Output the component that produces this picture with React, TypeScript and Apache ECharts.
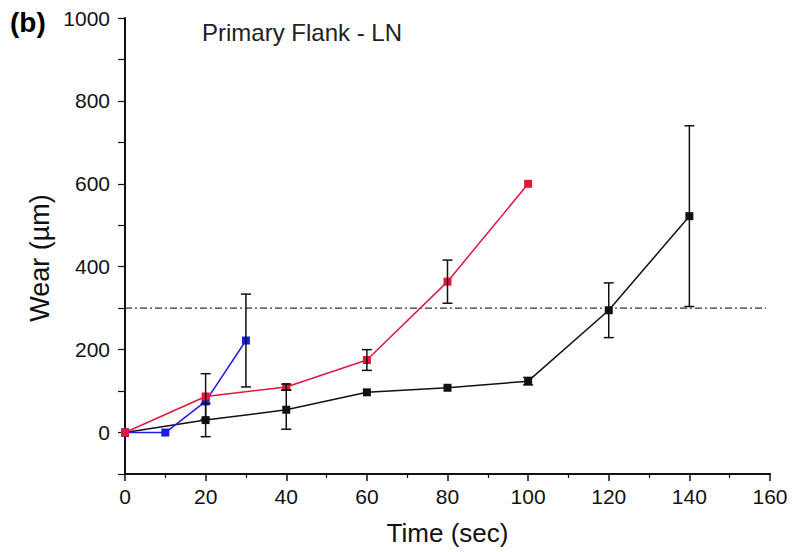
import React, { useEffect, useRef } from "react";
import * as echarts from "echarts";

const times = [0, 20, 40, 60, 80, 100, 120, 140];
const blackWear = [0, 30, 55, 97, 108, 124, 295, 522];
const blackErr = [0, 40, 47, 0, 0, 9, 66, 218];

const redTimes = [0, 20, 40, 60, 80, 100];
const redWear = [0, 87, 110, 175, 364, 600];
const redErr = [0, 55, 7, 25, 52, 0];

const blueTimes = [0, 10, 20, 30];
const blueWear = [0, 0, 75, 222];
const blueErr = [0, 0, 0, 112];

const thresholdWear = 300;
const thresholdSpan = [0, 159];

const xTicks = [0, 20, 40, 60, 80, 100, 120, 140, 160];
const yTicks = [0, 200, 400, 600, 800, 1000];

const FONT = "'Liberation Sans', Arial, sans-serif";

function errData(xs: number[], ys: number[], es: number[]) {
  return xs
    .map((x, i) => [x, ys[i], es[i]])
    .filter((d) => d[2] > 0);
}

function errRender(params: any, api: any) {
  const x = api.value(0);
  const y = api.value(1);
  const e = api.value(2);
  const top = api.coord([x, y + e]);
  const bot = api.coord([x, y - e]);
  const w = 5;
  const style = { stroke: "#111", lineWidth: 1.5 };
  return {
    type: "group",
    children: [
      { type: "line", shape: { x1: top[0], y1: top[1], x2: bot[0], y2: bot[1] }, style },
      { type: "line", shape: { x1: top[0] - w, y1: top[1], x2: top[0] + w, y2: top[1] }, style },
      { type: "line", shape: { x1: bot[0] - w, y1: bot[1], x2: bot[0] + w, y2: bot[1] }, style },
    ],
  };
}

export default function App() {
  const ref = useRef<HTMLDivElement>(null);
  useEffect(() => {
    if (!ref.current) return;
    const chart = echarts.init(ref.current, null, { renderer: "svg" });
    const lineSeries = (name: string, xs: number[], ys: number[], color: string, z: number) => ({
      name,
      type: "line",
      data: xs.map((x, i) => [x, ys[i]]),
      symbol: "rect",
      symbolSize: 8,
      lineStyle: { color, width: 1.5 },
      itemStyle: { color },
      z,
    });
    chart.setOption({
      animation: false,
      backgroundColor: "#fff",
      grid: { left: 125, right: 26, top: 18, bottom: 78 },
      graphic: [
        {
          type: "text",
          left: 10,
          top: 8,
          style: { text: "(b)", font: `bold 28px ${FONT}`, fill: "#000" },
        },
        {
          type: "text",
          left: 202,
          top: 20,
          style: { text: "Primary Flank - LN", font: `24px ${FONT}`, fill: "#222" },
        },
        {
          type: "text",
          x: 40,
          y: 258,
          rotation: Math.PI / 2,
          style: {
            text: "Wear (µm)",
            font: `27px ${FONT}`,
            fill: "#111",
            align: "center",
            verticalAlign: "middle",
          },
        },
      ],
      xAxis: {
        type: "value",
        min: 0,
        max: 160,
        interval: 20,
        name: "Time (sec)",
        nameLocation: "middle",
        nameGap: 46,
        nameTextStyle: { fontSize: 26, fontFamily: FONT, color: "#111", verticalAlign: "top" },
        axisLine: { show: true, onZero: false, lineStyle: { color: "#111", width: 2 } },
        axisTick: { show: true, inside: false, length: 7, lineStyle: { color: "#111", width: 1.5 } },
        minorTick: { show: true, splitNumber: 2, length: 4, lineStyle: { color: "#111", width: 1.2 } },
        axisLabel: {
          fontSize: 21,
          fontFamily: FONT,
          color: "#111",
          margin: 12,
          formatter: (v: number) => (xTicks.includes(v) ? String(v) : ""),
        },
        splitLine: { show: false },
      },
      yAxis: {
        type: "value",
        min: -100,
        max: 1000,
        interval: 100,
        axisLine: { show: true, onZero: false, lineStyle: { color: "#111", width: 2 } },
        axisTick: { show: true, inside: false, length: 7, lineStyle: { color: "#111", width: 1.2 } },
        axisLabel: {
          fontSize: 21,
          fontFamily: FONT,
          color: "#111",
          margin: 15,
          formatter: (v: number) => (yTicks.includes(v) ? String(v) : ""),
        },
        splitLine: { show: false },
      },
      series: [
        {
          name: "threshold",
          type: "line",
          data: thresholdSpan.map((x) => [x, thresholdWear]),
          symbol: "none",
          lineStyle: { color: "#333", width: 1.2, type: [7, 3, 2, 3] },
          z: 1,
        },
        lineSeries("Black", times, blackWear, "#111111", 3),
        lineSeries("Blue", blueTimes, blueWear, "#1c1ce0", 4),
        lineSeries("Red", redTimes, redWear, "#e3163c", 5),
        {
          type: "custom",
          renderItem: errRender,
          data: errData(times, blackWear, blackErr),
          encode: { x: 0, y: 1 },
          z: 6,
        },
        {
          type: "custom",
          renderItem: errRender,
          data: errData(redTimes, redWear, redErr),
          encode: { x: 0, y: 1 },
          z: 6,
        },
        {
          type: "custom",
          renderItem: errRender,
          data: errData(blueTimes, blueWear, blueErr),
          encode: { x: 0, y: 1 },
          z: 6,
        },
      ],
    });
    return () => chart.dispose();
  }, []);
  return (
    <div
      ref={ref}
      style={{ position: "fixed", left: 0, top: 0, width: 796, height: 552, background: "#fff" }}
    />
  );
}
